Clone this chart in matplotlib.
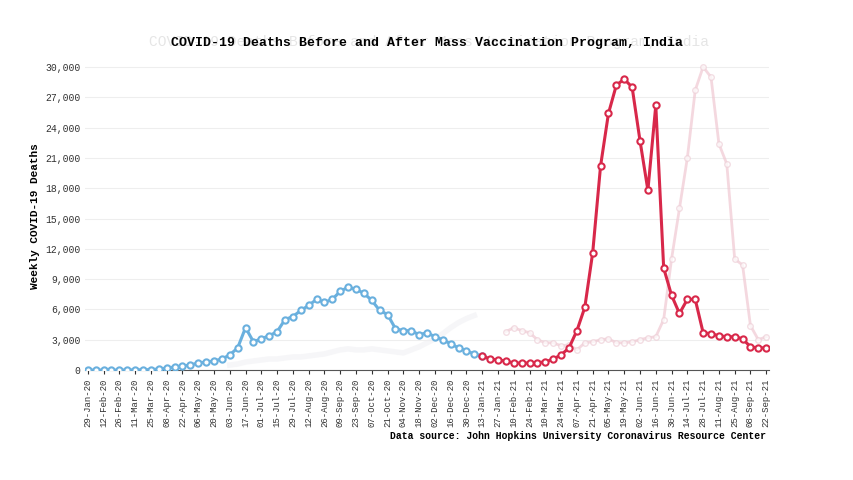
import numpy as np
import pandas as pd
import matplotlib.pyplot as plt
from matplotlib.ticker import FuncFormatter

# weekly dates 29-Jan-20 .. 22-Sep-21
dates = pd.date_range('2020-01-29', '2021-09-22', freq='7D')

# before vaccination (29-Jan-20 .. 13-Jan-21)
before = [0, 0, 0, 0, 0, 10, 20, 30, 50, 100, 200, 300, 400, 500, 700, 800, 900, 1100,
          1500, 2200, 4200, 2800, 3100, 3400, 3800, 5000, 5300, 5900, 6400, 7000, 6700,
          7000, 7800, 8200, 8000, 7600, 6900, 5900, 5500, 4100, 3900, 3900, 3500, 3700,
          3300, 3000, 2600, 2200, 1900, 1600, 1400]
# after vaccination (20-Jan-21 .. 22-Sep-21)
after = [1100, 1000, 900, 700, 700, 700, 750, 800, 1100, 1500, 2200, 3900, 6200, 11600,
         20200, 25400, 28200, 28800, 28000, 22700, 17800, 26200, 10100, 7400, 5600, 7000,
         7000, 3700, 3600, 3400, 3300, 3300, 3100, 2300, 2200, 2200]
# faded animation trail (03-Feb-21 .. 22-Sep-21)
trail = [3800, 4200, 3900, 3700, 3000, 2700, 2700, 2400, 2500, 2000, 2700, 2800, 3000,
         3100, 2700, 2700, 2800, 3000, 3200, 3300, 5000, 11000, 16000, 21000, 27700,
         30000, 29000, 22400, 20400, 11000, 10400, 4400, 3000, 3300]
# faded grey trail (03-Jun-20 .. 13-Jan-21)
trail_grey = [500, 600, 800, 900, 1000, 1100, 1100, 1200, 1300, 1300, 1400, 1500, 1600,
              1800, 2000, 2100, 2000, 2000, 2100, 2000, 1900, 1800, 1700, 2000, 2300,
              2700, 3100, 3600, 4200, 4700, 5100, 5400]

title = 'COVID-19 Deaths Before and After Mass Vaccination Program, India'
source = 'Data source: John Hopkins University Coronavirus Resource Center'

blue = '#6ab0de'
red = '#d8284a'
font = 'Liberation Mono'

fig = plt.figure(figsize=(8.54, 4.8), dpi=100)
ax = fig.add_axes([0.1, 0.229, 0.8, 0.642])

x = np.arange(len(dates))
nb = len(before)
xb = x[:nb]
xa = x[nb - 1:]
ya = [before[-1]] + after

xt = x[len(x) - len(trail):]
ax.plot(xt, trail, color='#f0c8d2', lw=2, alpha=0.7, marker='o', ms=4, mfc='white',
        mec='#eed0d8', zorder=1)
xg = x[18:18 + len(trail_grey)]
ax.plot(xg, trail_grey, color='#eeeef2', lw=4, alpha=0.5, zorder=1)

ax.plot(xb, before, color=blue, lw=2.2, marker='o', ms=4.5, mfc='white', mec=blue,
        mew=1.5, zorder=3)
ax.plot(xa, ya, color=red, lw=2.2, marker='o', ms=4.5, mfc='white', mec=red,
        mew=1.5, zorder=4)

ax.set_xlim(-0.3, x[-1] + 0.3)
ax.set_ylim(0, 30500)
ax.set_yticks(np.arange(0, 30001, 3000))
ax.yaxis.set_major_formatter(FuncFormatter(lambda v, p: f'{int(v):,}'))
ax.set_xticks(x[::2])
ax.set_xticklabels([d.strftime('%d-%b-%y') for d in dates[::2]], rotation=90,
                   fontsize=6.5, family=font)
for t in ax.get_yticklabels():
    t.set_family(font)
    t.set_fontsize(7)
ax.grid(axis='y', color='#eeeeee', lw=0.8)
ax.set_axisbelow(True)
for s in ['top', 'right', 'left']:
    ax.spines[s].set_visible(False)
ax.spines['bottom'].set_color('#555555')
ax.tick_params(axis='y', length=0, colors='#333333')
ax.tick_params(axis='x', length=3, colors='#333333')
ax.set_ylabel('Weekly COVID-19 Deaths', family=font, fontsize=8, fontweight='bold')

fig.text(0.502, 0.905, title, ha='center', family=font, fontsize=10.5,
         color='#cccccc', alpha=0.5)
fig.text(0.5, 0.905, title, ha='center', family=font, fontsize=9.5, fontweight='bold')
fig.text(0.897, 0.085, source, ha='right', family=font, fontsize=7, fontweight='bold')

fig.savefig('out.png', dpi=100)
